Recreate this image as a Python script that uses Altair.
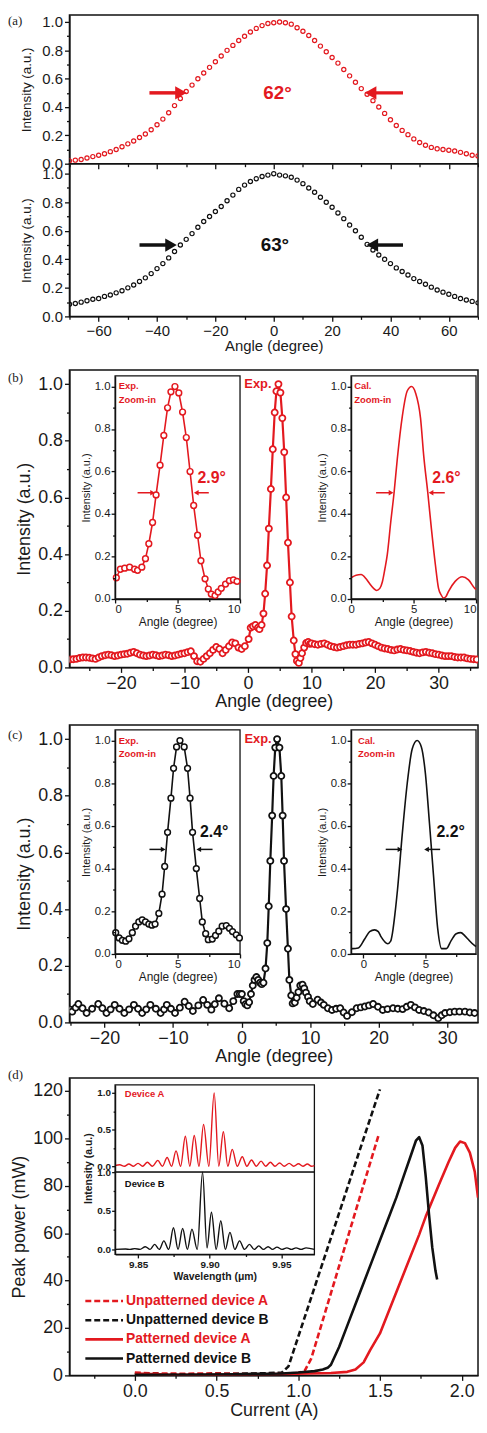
import altair as alt
import pandas as pd

RED = "#e3191f"
BLK = "#111111"
INK = "#1a1a1a"
FONT = "Liberation Sans"
SERIF = "Liberation Serif"
W = 412      # plot width of every panel
HV = 1372    # height of the single view that holds all four panels

# vertical placement (pixels from the top of the view): (bottom, top)
A_TOP = (150, 0)
A_BOT = (304, 150)
B_MAIN = (658, 358)
C_MAIN = (1016, 716)
D_MAIN = (1372, 1072)
B_IN = (589, 364)
C_IN = (947, 721)
D_IN_TOP = (1167, 1079)
D_IN_BOT = (1250, 1167)
LEG = (1297, 1355)

# ---------------- (a) far-field profiles ----------------
ANGLE_A = list(range(-70, 71, 2))
RED_A = [0.02, 0.025, 0.03, 0.04, 0.05, 0.06, 0.07, 0.085, 0.10, 0.12,
         0.14, 0.16, 0.185, 0.21, 0.24, 0.275, 0.315, 0.36, 0.41, 0.46,
         0.51, 0.555, 0.60, 0.64, 0.68, 0.72, 0.76, 0.80, 0.835, 0.87,
         0.90, 0.93, 0.955, 0.975, 0.99, 0.995, 1.0, 0.995, 0.985, 0.96,
         0.935, 0.905, 0.87, 0.83, 0.79, 0.75, 0.71, 0.665, 0.62, 0.575,
         0.53, 0.49, 0.445, 0.40, 0.355, 0.31, 0.27, 0.235, 0.205, 0.175,
         0.15, 0.13, 0.115, 0.105, 0.10, 0.095, 0.09, 0.08, 0.07, 0.06,
         0.055]
BLACK_A = [0.085, 0.09, 0.10, 0.11, 0.12, 0.125, 0.14, 0.15, 0.165, 0.18,
           0.20, 0.22, 0.245, 0.27, 0.30, 0.335, 0.37, 0.41, 0.455, 0.50,
           0.54, 0.58, 0.625, 0.665, 0.70, 0.735, 0.77, 0.81, 0.85, 0.89,
           0.92, 0.945, 0.965, 0.98, 0.99, 1.0, 0.99, 0.985, 0.975, 0.955,
           0.93, 0.90, 0.87, 0.835, 0.80, 0.765, 0.725, 0.685, 0.64, 0.60,
           0.555, 0.505, 0.465, 0.43, 0.40, 0.37, 0.34, 0.315, 0.29, 0.265,
           0.245, 0.225, 0.205, 0.185, 0.17, 0.155, 0.14, 0.125, 0.115, 0.105,
           0.095]
A_RED_ARROWS = [(-42.6, -31.8, 0.5, "r"), (44.3, 33.2, 0.5, "l")]
A_BLACK_ARROWS = [(-46.0, -35.2, 0.5, "r"), (44.3, 33.8, 0.5, "l")]

# ---------------- (b) device A ----------------
B_LEFT_X = [v / 2 for v in range(-56, 0)]
B_LEFT_Y = [0.028, 0.029, 0.03, 0.033, 0.035, 0.035, 0.034, 0.032, 0.03, 0.035,
            0.04, 0.043, 0.045, 0.043, 0.04, 0.042, 0.045, 0.047, 0.048, 0.052,
            0.055, 0.05, 0.045, 0.042, 0.04, 0.042, 0.045, 0.043, 0.04, 0.042,
            0.045, 0.043, 0.04, 0.042, 0.045, 0.048, 0.05, 0.054, 0.057, 0.04,
            0.022, 0.02, 0.03, 0.04, 0.05, 0.062, 0.072, 0.065, 0.05, 0.062,
            0.075, 0.088, 0.085, 0.07, 0.065, 0.075]
B_EXP_X = [0.1, 0.42, 0.77, 1.16, 1.56, 1.8, 2.14, 2.43, 2.7, 3.0, 3.28, 3.6, 3.9, 4.2, 4.47, 4.79,
           5.1, 5.4, 5.7, 6.0, 6.29, 6.6, 6.87, 7.2, 7.46, 7.7, 8.0, 8.25, 8.5, 8.84, 9.15, 9.47, 9.76]
B_EXP_Y = [0.10, 0.14, 0.145, 0.15, 0.14, 0.135, 0.15, 0.19, 0.26, 0.36, 0.49, 0.63, 0.77, 0.90,
           0.975, 1.0, 0.97, 0.88, 0.76, 0.60, 0.44, 0.30, 0.18, 0.095, 0.047, 0.023, 0.016, 0.033,
           0.05, 0.07, 0.086, 0.09, 0.083]
B_RIGHT_X = [v / 2 for v in range(20, 73)]
B_RIGHT_Y = [0.085, 0.082, 0.08, 0.083, 0.085, 0.08, 0.075, 0.072, 0.07, 0.072,
             0.075, 0.078, 0.08, 0.08, 0.08, 0.083, 0.085, 0.088, 0.09, 0.085,
             0.08, 0.075, 0.07, 0.067, 0.065, 0.062, 0.06, 0.063, 0.065, 0.062,
             0.06, 0.058, 0.055, 0.052, 0.05, 0.053, 0.055, 0.052, 0.05, 0.047,
             0.045, 0.042, 0.04, 0.04, 0.04, 0.037, 0.035, 0.035, 0.035, 0.032,
             0.03, 0.029, 0.028]
B_CAL_X = [0, 0.4, 0.8, 1.2, 1.45, 1.8, 2.04, 2.3, 2.5, 2.7, 2.9, 3.17, 3.44, 3.7, 4.1, 4.5, 4.84,
           5.16, 5.56, 5.82, 6.14, 6.43, 6.75, 7.0, 7.2, 7.4, 7.6, 7.8, 8.33, 8.9, 9.4, 9.9, 10]
B_CAL_Y = [0.10, 0.112, 0.115, 0.095, 0.075, 0.05, 0.04, 0.05, 0.08, 0.14, 0.21, 0.36, 0.50, 0.66,
           0.86, 0.98, 1.0, 0.97, 0.85, 0.67, 0.50, 0.33, 0.16, 0.05, 0.02, 0.005, 0.012, 0.036,
           0.083, 0.105, 0.09, 0.05, 0.045]

# ---------------- (c) device B ----------------
C_LEFT_X = [-25, -24.7, -24.2, -23.8, -23.2, -22.6, -21.8, -20.9, -20.3, -19.7, -19.1, -18.5, -17.8,
            -17.1, -16.4, -15.7, -15.1, -14.5, -13.9, -13.3, -12.5, -11.8, -11.3, -10.9, -10.3,
            -9.7, -9.0, -8.3, -7.7, -7.1, -6.3, -5.6, -5.0, -4.4, -3.9, -3.3, -2.5, -1.8, -1.2,
            -0.6, -0.25]
C_LEFT_Y = [0.045, 0.038, 0.052, 0.065, 0.05, 0.033, 0.048, 0.065, 0.05, 0.033, 0.046, 0.062, 0.048,
            0.033, 0.046, 0.062, 0.048, 0.033, 0.046, 0.062, 0.048, 0.033, 0.046, 0.062, 0.048,
            0.033, 0.052, 0.073, 0.058, 0.04, 0.06, 0.079, 0.062, 0.045, 0.064, 0.085, 0.066,
            0.05, 0.075, 0.10, 0.10]
C_EXP_X = [0.05, 0.32, 0.58, 0.85, 1.11, 1.38, 1.64, 1.9, 2.17, 2.43, 2.7, 2.95, 3.2, 3.5, 3.76,
           3.97, 4.2, 4.47, 4.68, 4.92, 5.19, 5.53, 5.8, 6.0, 6.2, 6.5, 6.77, 6.98, 7.25, 7.46,
           7.78, 8.04, 8.3, 8.57, 8.9, 9.15, 9.4, 9.7, 9.95]
C_EXP_Y = [0.10, 0.075, 0.064, 0.06, 0.071, 0.10, 0.13, 0.15, 0.16, 0.15, 0.14, 0.135, 0.14, 0.19,
           0.28, 0.41, 0.57, 0.73, 0.87, 0.97, 1.0, 0.97, 0.87, 0.73, 0.57, 0.40, 0.26, 0.15,
           0.095, 0.067, 0.07, 0.087, 0.107, 0.13, 0.133, 0.12, 0.105, 0.09, 0.075]
C_RIGHT_X = [10.4, 11.1, 11.6, 12.0, 12.6, 13.2, 13.8, 14.4, 14.9, 15.4, 16.1, 16.8, 17.4, 18.0,
             18.6, 19.2, 19.9, 20.6, 21.3, 22.1, 22.8, 23.5, 24.1, 24.7, 25.3, 25.9, 26.6, 27.3,
             28.0, 28.7, 29.2, 29.7, 30.4, 31.1, 31.8, 32.6, 33.3, 34.0]
C_RIGHT_Y = [0.065, 0.08, 0.07, 0.062, 0.05, 0.044, 0.048, 0.05, 0.035, 0.023, 0.036, 0.05, 0.053,
             0.056, 0.06, 0.065, 0.055, 0.044, 0.047, 0.05, 0.048, 0.047, 0.055, 0.062, 0.053,
             0.044, 0.04, 0.035, 0.025, 0.015, 0.025, 0.033, 0.036, 0.038, 0.038, 0.038, 0.035, 0.033]
C_CAL_X = [-1, -0.87, -0.42, 0.1, 0.5, 0.9, 1.2, 1.43, 1.96, 2.2, 2.35, 2.55, 2.75, 3.15, 3.54, 3.94,
           4.34, 4.68, 5.0, 5.34, 5.66, 6.0, 6.32, 6.7, 7.1, 7.5, 7.86, 8.2, 8.44, 8.97, 9.1]
C_CAL_Y = [0.025, 0.025, 0.028, 0.07, 0.105, 0.113, 0.105, 0.08, 0.048, 0.06, 0.10, 0.19, 0.30,
           0.57, 0.80, 0.96, 1.0, 0.97, 0.85, 0.61, 0.37, 0.12, 0.025, 0.025, 0.064, 0.095, 0.10,
           0.085, 0.07, 0.04, 0.035]

# ---------------- (d) L-I curves and spectra ----------------
UNPAT_A_I = [0.0, 0.1, 0.3, 0.5, 0.7, 0.9, 1.0, 1.04, 1.08, 1.1, 1.2, 1.3, 1.4, 1.49]
UNPAT_A_P = [1.2, 0.9, 0.7, 0.9, 0.6, 0.8, 1.0, 2.0, 7.2, 11.8, 34.7, 57.6, 80.5, 101.0]
UNPAT_B_I = [0.0, 0.2, 0.4, 0.6, 0.8, 0.9, 0.94, 1.0, 1.1, 1.2, 1.3, 1.4, 1.5]
UNPAT_B_P = [0.6, 0.5, 0.5, 0.6, 0.9, 1.2, 3.8, 16.3, 37.2, 58.0, 79.0, 100.0, 120.7]
PAT_A_I = [0.0, 0.2, 0.5, 0.8, 1.0, 1.2, 1.3, 1.35, 1.4, 1.44, 1.5, 1.58, 1.66, 1.74, 1.78, 1.86,
           1.92, 1.96, 1.99, 2.02, 2.05, 2.08, 2.1]
PAT_A_P = [0.8, 0.4, 0.3, 0.5, 0.7, 1.0, 1.5, 2.5, 5.5, 10.7, 17.7, 31.6, 45.5, 59.4, 67.0, 80.3,
           90.0, 96.0, 98.7, 98.0, 94.0, 86.0, 75.0]
PAT_B_I = [0.0, 0.3, 0.6, 0.9, 1.0, 1.1, 1.15, 1.18, 1.2, 1.25, 1.3, 1.35, 1.4, 1.45, 1.5, 1.55,
           1.6, 1.65, 1.68, 1.7, 1.72, 1.74, 1.76, 1.78, 1.8, 1.82, 1.84, 1.85]
PAT_B_P = [0.3, 0.3, 0.5, 0.8, 1.2, 1.8, 2.5, 3.2, 4.5, 12, 21, 30, 39, 48, 57, 66, 75, 85, 91, 95,
           99, 100.5, 97, 84, 68, 54, 44, 40.5]
SPEC_A_X = [9.834, 9.8373, 9.8405, 9.8436, 9.8468, 9.85, 9.8532, 9.8565, 9.860, 9.8638, 9.867,
            9.8703, 9.8734, 9.8765, 9.8797, 9.883, 9.8861, 9.8892, 9.8925, 9.8957, 9.8994, 9.9031,
            9.9063, 9.9095, 9.9126, 9.9157, 9.9192, 9.9227, 9.9259, 9.9291, 9.9325, 9.9358, 9.939,
            9.9423, 9.9455, 9.9487, 9.952, 9.9554, 9.9586, 9.9619, 9.965, 9.9681, 9.971, 9.973]
SPEC_A_Y = [0.01, 0.02, 0.0, 0.03, 0.0, 0.04, 0.0, 0.055, 0.0, 0.08, 0.0, 0.12, 0.0, 0.21, 0.0,
            0.41, 0.0, 0.42, 0.0, 0.57, 0.0, 1.0, 0.0, 0.47, 0.0, 0.23, 0.0, 0.13, 0.0, 0.085,
            0.0, 0.07, 0.0, 0.055, 0.0, 0.045, 0.0, 0.04, 0.0, 0.035, 0.0, 0.03, 0.0, 0.01]
SPEC_B_X = [9.834, 9.8413, 9.8445, 9.8477, 9.8514, 9.8551, 9.8584, 9.8616, 9.8648, 9.868, 9.8714,
            9.8747, 9.8779, 9.8811, 9.8844, 9.8876, 9.8913, 9.895, 9.8981, 9.9012, 9.9045, 9.9077,
            9.9109, 9.9141, 9.9175, 9.9208, 9.9243, 9.9277, 9.931, 9.9342, 9.9375, 9.9407, 9.9438,
            9.9469, 9.9504, 9.9538, 9.957, 9.9602, 9.9637, 9.9672, 9.973]
SPEC_B_Y = [0.0, 0.005, 0.0, 0.01, 0.0, 0.035, 0.0, 0.065, 0.0, 0.11, 0.0, 0.28, 0.0, 0.27, 0.0,
            0.26, 0.0, 1.0, 0.02, 0.48, 0.0, 0.37, 0.0, 0.22, 0.0, 0.11, 0.0, 0.065, 0.0, 0.045,
            0.0, 0.035, 0.0, 0.03, 0.0, 0.02, 0.0, 0.02, 0.0, 0.02, 0.0]
LEG_NAMES = ["Unpatterned device A", "Unpatterned device B", "Patterned device A", "Patterned device B"]
LEG_COLORS = [RED, BLK, RED, BLK]
LEG_DASH = [[6, 3], [6, 3], [1, 0], [1, 0]]

TENTHS = [0.0, 0.1, 0.2, 0.3, 0.4, 0.5, 0.6, 0.7, 0.8, 0.9, 1.0]
EVEN10 = "round(datum.value*10) % 2 == 0"


def df(x, y):
    return pd.DataFrame({"x": x, "y": y})


def sc(domain, rng):
    return alt.Scale(domain=domain, range=list(rng), nice=False, zero=False)


def axis(values, test, fmt, lsize, title=None, tsize=12, major=5, minor=3, **kw):
    props = dict(values=values, format=fmt, labelExpr="(" + test + ") ? datum.label : ''",
                 tickSize={"condition": {"test": test, "value": major}, "value": minor},
                 labelFontSize=lsize, title=title, titleFontSize=tsize, grid=False)
    props.update(kw)
    return alt.Axis(**props)


def enc(sx, sy, ax, ay, xf="x:Q", yf="y:Q"):
    return dict(x=alt.X(xf, scale=sx, axis=ax), y=alt.Y(yf, scale=sy, axis=ay))


def line(d, sx, sy, ax, ay, color, lw, **kw):
    return alt.Chart(d).mark_line(color=color, strokeWidth=lw, strokeJoin="round", **kw).encode(
        **enc(sx, sy, ax, ay))


def pts(d, sx, sy, ax, ay, color, size, sw, fill="white"):
    m = dict(shape="circle", size=size, strokeWidth=sw, stroke=color, opacity=1, filled=False, clip=True)
    if fill:
        m["fill"] = fill
        m["fillOpacity"] = 1
    return alt.Chart(d).mark_point(**m).encode(**enc(sx, sy, ax, ay))


def texts(rows, sx, sy, ax, ay, color, size, align="center", weight="bold"):
    d = pd.DataFrame(rows, columns=["x", "y", "t"])
    return alt.Chart(d).mark_text(font=FONT, fontSize=size, fontWeight=weight, color=color,
                                  align=align, baseline="middle").encode(text="t:N", **enc(sx, sy, ax, ay))


def arrows(rows, color, sx, sy, ax, ay, width, size):
    d = pd.DataFrame(rows, columns=["x", "x2", "y", "dir"])
    shp = alt.Shape("dir:N", scale=alt.Scale(domain=["r", "l"], range=["triangle-right", "triangle-left"]),
                    legend=None)
    ln = alt.Chart(d).mark_rule(color=color, strokeWidth=width).encode(x2="x2:Q", **enc(sx, sy, ax, ay))
    hd = alt.Chart(d).mark_point(filled=True, color=color, size=size, opacity=1).encode(
        shape=shp, **enc(sx, sy, ax, ay, xf="x2:Q"))
    return [ln, hd]


def frame(x0, x1, y0, y1, sx, sy, ax, ay, fill="white", sw=1.3):
    d = pd.DataFrame({"x": [x0], "x2": [x1], "y": [y0], "y2": [y1]})
    return alt.Chart(d).mark_rect(fill=fill, stroke=BLK, strokeWidth=sw).encode(
        x2="x2:Q", y2="y2:Q", **enc(sx, sy, ax, ay))


def plabel(t, dy):
    return alt.Chart(pd.DataFrame({"t": [t]})).mark_text(
        font=SERIF, fontSize=13, align="left", baseline="top", color=INK).encode(
        text="t:N", x=alt.value(-62), y=alt.value(dy))


def bottom_offset(y_bottom):
    return -(HV - y_bottom)


groups = []

# ================= panel (a) =================
xa = sc([-70, 70], (0, W))
ya_top = sc([0, 1.05], A_TOP)
ya_bot = sc([0, 1.07], A_BOT)
A_TICKS = list(range(-70, 71, 10))
ax_a_top = axis(A_TICKS, "datum.value % 20 == 0", "d", 15, labels=False, domain=False, orient="bottom",
                offset=bottom_offset(A_TOP[0]))
ax_a_bot = axis(A_TICKS, "datum.value % 20 == 0", "d", 15, "Angle (degree)", 15, titlePadding=0,
                orient="bottom", offset=bottom_offset(A_BOT[0]))
ay_a_top = axis(TENTHS, EVEN10, ".1f", 15, "Intensity (a.u.)", 13.5, titlePadding=8, orient="left")
ay_a_bot = axis(TENTHS, EVEN10, ".1f", 15, "Intensity (a.u.)", 13.5, titlePadding=8, orient="left")

groups.append(alt.layer(
    frame(-70, 70, 0, 1.05, xa, ya_top, ax_a_top, ay_a_top, fill="transparent", sw=1.5),
    pts(df(ANGLE_A, RED_A), xa, ya_top, ax_a_top, ay_a_top, RED, 18, 1.2, fill=None),
    *arrows(A_RED_ARROWS, RED, xa, ya_top, ax_a_top, ay_a_top, 3.5, 180),
    texts([(1.3, 0.5, "62\u00b0")], xa, ya_top, ax_a_top, ay_a_top, RED, 19),
))
groups.append(alt.layer(
    frame(-70, 70, 0, 1.07, xa, ya_bot, ax_a_bot, ay_a_bot, fill="transparent", sw=1.5),
    pts(df(ANGLE_A, BLACK_A), xa, ya_bot, ax_a_bot, ay_a_bot, BLK, 18, 1.2, fill=None),
    *arrows(A_BLACK_ARROWS, BLK, xa, ya_bot, ax_a_bot, ay_a_bot, 3.5, 180),
    texts([(0.4, 0.5, "63\u00b0")], xa, ya_bot, ax_a_bot, ay_a_bot, BLK, 19),
))


# ================= panels (b), (c) =================
def inset_axes(xvals, xfmt, x_left, inset, **xkw):
    ax = axis(xvals, "datum.value % 5 == 0", xfmt, 11.5, "Angle (degree)", 12, major=4, minor=2.5,
              orient="bottom", offset=bottom_offset(inset[0]), zindex=2, titlePadding=1, labelPadding=1, **xkw)
    ay = axis(TENTHS, EVEN10, ".1f", 11.5, "Intensity (a.u.)", 11, major=4, minor=2.5, orient="left",
              offset=-x_left, zindex=2, titlePadding=3, labelPadding=1)
    return ax, ay


def angle_panel(color, main_x, main_y, x_dom, x_ticks, main_pos, inset, exp_x, exp_y, cal_x, cal_y,
                cal_dom, cal_ticks, exp_pos, fw1, fw2, arr1, arr2, cal_label_x):
    xm = sc(x_dom, (0, W))
    ym = sc([0, 1.05], main_pos)
    axm = axis(x_ticks, "datum.value % 10 == 0", "d", 18, "Angle (degree)", 18, titlePadding=0,
               orient="bottom", offset=bottom_offset(main_pos[0]))
    aym = axis(TENTHS, EVEN10, ".1f", 18, "Intensity (a.u.)", 18, titlePadding=4, orient="left")
    md = df(main_x, main_y)
    main = alt.layer(
        frame(x_dom[0], x_dom[1], 0, 1.05, xm, ym, axm, aym, fill="transparent", sw=1.5),
        line(md, xm, ym, axm, aym, color, 2.2, clip=True),
        pts(md, xm, ym, axm, aym, color, 38, 1.8),
        texts([(exp_pos, 1.0, "Exp.")], xm, ym, axm, aym, RED, 13, align="right"),
    )
    # inset 1 (experiment zoom-in)
    sx1 = sc([0, 10], (46, 172))
    sy1 = sc([0, 1.05], inset)
    ax1, ay1 = inset_axes([0, 2.5, 5, 7.5, 10], "d", 46, inset)
    ed = df(exp_x, exp_y)
    ins1 = alt.layer(
        frame(0, 10, 0, 1.05, sx1, sy1, ax1, ay1),
        line(ed, sx1, sy1, ax1, ay1, color, 1.6),
        pts(ed, sx1, sy1, ax1, ay1, color, 34, 1.5),
        texts([(0.3, 1.0, "Exp."), (0.3, 0.935, "Zoom-in")], sx1, sy1, ax1, ay1, RED, 9.5, align="left"),
        texts([fw1], sx1, sy1, ax1, ay1, color, 16, align="left"),
        *arrows(arr1, color, sx1, sy1, ax1, ay1, 1.5, 30),
    )
    # inset 2 (calculation zoom-in)
    sx2 = sc(cal_dom, (284, 410))
    sy2 = sc([0, 1.05], inset)
    ax2, ay2 = inset_axes(cal_ticks, "d", 284, inset,
                          labelAlign={"condition": {"test": "datum.value == 10", "value": "right"},
                                      "value": "center"})
    cd = df(cal_x, cal_y)
    ins2 = alt.layer(
        frame(cal_dom[0], cal_dom[1], 0, 1.05, sx2, sy2, ax2, ay2),
        line(cd, sx2, sy2, ax2, ay2, color, 1.6, interpolate="monotone"),
        texts([(cal_label_x, 1.0, "Cal."), (cal_label_x, 0.935, "Zoom-in")], sx2, sy2, ax2, ay2, RED, 9.5,
              align="left"),
        texts([fw2], sx2, sy2, ax2, ay2, color, 16, align="left"),
        *arrows(arr2, color, sx2, sy2, ax2, ay2, 1.5, 30),
    )
    return [main, ins1, ins2]


groups += angle_panel(
    RED, B_LEFT_X + B_EXP_X + B_RIGHT_X, B_LEFT_Y + B_EXP_Y + B_RIGHT_Y, [-28.1, 36.2],
    list(range(-25, 36, 5)), B_MAIN, B_IN, B_EXP_X, B_EXP_Y, B_CAL_X, B_CAL_Y, [0, 10],
    [0, 2.5, 5, 7.5, 10], 3.7, (6.6, 0.57, "2.9\u00b0"), (6.5, 0.57, "2.6\u00b0"),
    [(1.8, 3.0, 0.5, "r"), (7.5, 6.5, 0.5, "l")], [(2.0, 3.2, 0.5, "r"), (7.5, 6.4, 0.5, "l")], 0.25)

groups += angle_panel(
    BLK, C_LEFT_X + C_EXP_X + C_RIGHT_X, C_LEFT_Y + C_EXP_Y + C_RIGHT_Y, [-25.1, 34.5],
    list(range(-25, 35, 5)), C_MAIN, C_IN, C_EXP_X, C_EXP_Y, C_CAL_X, C_CAL_Y, [-1, 9.1],
    [0, 2.5, 5, 7.5], 4.4, (6.8, 0.57, "2.4\u00b0"), (5.9, 0.57, "2.2\u00b0"),
    [(2.75, 3.85, 0.49, "r"), (7.8, 6.7, 0.49, "l")], [(1.8, 2.95, 0.49, "r"), (6.2, 5.1, 0.49, "l")], -0.45)

# ================= panel (d) =================
xd = sc([-0.4, 2.1], (0, W))
yd = sc([0, 125.5], D_MAIN)
axdx = axis([-0.25, 0, 0.25, 0.5, 0.75, 1.0, 1.25, 1.5, 1.75, 2.0], "round(datum.value*4) % 2 == 0", ".1f",
            18, "Current (A)", 18, titlePadding=1, orient="bottom", offset=bottom_offset(D_MAIN[0]))
axdy = axis(list(range(0, 121, 10)), "datum.value % 20 == 0", "d", 18, "Peak power (mW)", 18,
            titlePadding=4, orient="left")


def dline(i, p, color, dash=None):
    kw = dict(color=color, strokeWidth=2.6, clip=True, strokeJoin="round")
    if dash:
        kw["strokeDash"] = dash
    return alt.Chart(df(i, p)).mark_line(**kw).encode(**enc(xd, yd, axdx, axdy))


groups.append(alt.layer(
    frame(-0.4, 2.1, 0, 125.5, xd, yd, axdx, axdy, fill="transparent", sw=1.5),
    dline(UNPAT_A_I, UNPAT_A_P, RED, [6, 3]),
    dline(UNPAT_B_I, UNPAT_B_P, BLK, [6, 3]),
    dline(PAT_A_I, PAT_A_P, RED),
    dline(PAT_B_I, PAT_B_P, BLK),
))

leg_df = pd.DataFrame({"name": LEG_NAMES})
leg_y = alt.Y("name:N", sort=LEG_NAMES, scale=alt.Scale(type="point", range=list(LEG), padding=0), axis=None)
leg_c = alt.Color("name:N", scale=alt.Scale(domain=LEG_NAMES, range=LEG_COLORS), legend=None)
groups.append(alt.layer(
    alt.Chart(leg_df).mark_rule(strokeWidth=2.6).encode(
        x=alt.value(16), x2=alt.value(54), y=leg_y, color=leg_c,
        strokeDash=alt.StrokeDash("name:N", scale=alt.Scale(domain=LEG_NAMES, range=LEG_DASH), legend=None)),
    alt.Chart(leg_df).mark_text(font=FONT, fontSize=14, fontWeight="bold", align="left", baseline="middle").encode(
        x=alt.value(57), y=leg_y, text="name:N", color=leg_c),
))

sxs = sc([9.834, 9.973], (46, 247))
sy_top = sc([-0.08, 1.11], D_IN_TOP)
sy_bot = sc([-0.065, 1.0], D_IN_BOT)
Q4 = "round(datum.value*4) % 2 == 0"
ay_sp_top = axis([0, 0.25, 0.5, 0.75, 1.0], Q4, ".1f", 10, None, major=3.5, minor=2, orient="left",
                 offset=-46, zindex=2, labelFontWeight="bold", labelPadding=1)
ay_sp_bot = axis([0, 0.25, 0.5, 0.75, 1.0], Q4, ".1f", 10, "Intensity (a.u.)", 10.5, major=3.5, minor=2,
                 orient="left", offset=-46, zindex=2, labelFontWeight="bold", labelPadding=1,
                 titleFontWeight="bold", titleY=D_IN_TOP[0] - 4, titlePadding=3)
ax_sp_bot = axis([9.85, 9.875, 9.9, 9.925, 9.95], "round(datum.value*40) % 2 == 0", ".2f", 10,
                 "Wavelength (\u03bcm)", 10.5, major=3.5, minor=2, orient="bottom",
                 offset=bottom_offset(D_IN_BOT[0]), zindex=2, labelFontWeight="bold",
                 titleFontWeight="bold", titlePadding=2, labelPadding=2)

groups.append(alt.layer(
    frame(9.834, 9.973, -0.08, 1.11, sxs, sy_top, None, ay_sp_top),
    line(df(SPEC_A_X, SPEC_A_Y), sxs, sy_top, None, ay_sp_top, RED, 1.4, interpolate="monotone"),
    texts([(9.8408, 0.98, "Device A")], sxs, sy_top, None, ay_sp_top, RED, 9.5, align="left"),
))
groups.append(alt.layer(
    frame(9.834, 9.973, -0.065, 1.0, sxs, sy_bot, ax_sp_bot, ay_sp_bot),
    line(df(SPEC_B_X, SPEC_B_Y), sxs, sy_bot, ax_sp_bot, ay_sp_bot, BLK, 1.4, interpolate="monotone"),
    texts([(9.8408, 0.85, "Device B")], sxs, sy_bot, ax_sp_bot, ay_sp_bot, BLK, 9.5, align="left"),
))

# panel letters
groups += [plabel("(a)", A_TOP[1]), plabel("(b)", B_MAIN[1] + 2), plabel("(c)", C_MAIN[1] + 4),
           plabel("(d)", D_MAIN[1] - 9)]

chart = alt.layer(*groups).resolve_scale(x="independent", y="independent").properties(
    width=W, height=HV, padding=0
).configure(font=FONT).configure_view(
    stroke="transparent"
).configure_axis(
    labelFont=FONT, titleFont=FONT, titleFontWeight="normal", labelColor=INK, titleColor=INK,
    domainColor=BLK, tickColor=BLK, domainWidth=1.3, tickWidth=1.3, labelPadding=2
)

chart.save("out.html", embed_options={"renderer": "svg", "actions": False})
